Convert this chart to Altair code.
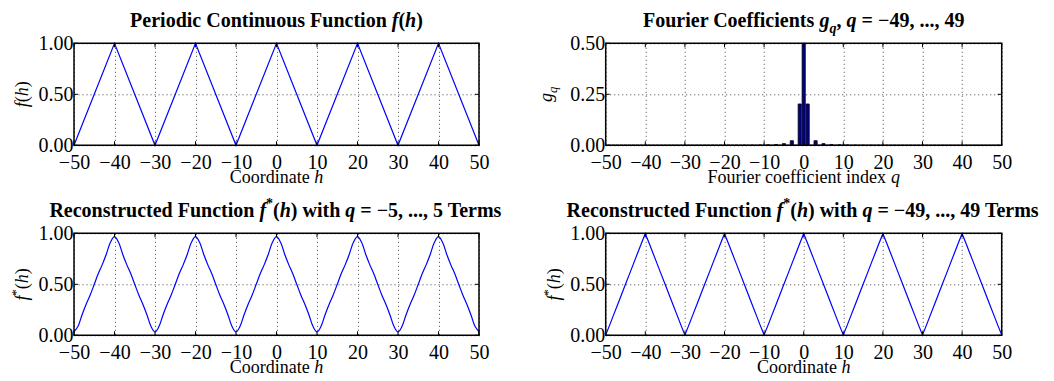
import altair as alt
import pandas as pd

# ---------------- data ----------------
H_TICKS = [-50, -40, -30, -20, -10, 0, 10, 20, 30, 40, 50]

# exact periodic function: vertices of the triangle wave
F_VERT_H = [-50, -40, -30, -20, -10, 0, 10, 20, 30, 40, 50]
F_VERT_V = [0.0, 1.0, 0.0, 1.0, 0.0, 1.0, 0.0, 1.0, 0.0, 1.0, 0.0]

# sample coordinates for reconstructed curves
H_SAMPLES = list(range(-50, 51))

# reconstruction with q = -5..5 (one value per unit of h)
F5_VALUES = [
    0.0335, 0.0880, 0.2022, 0.3046, 0.3950, 0.5000, 0.6050, 0.6954, 0.7978, 0.9120,
    0.9665, 0.9120, 0.7978, 0.6954, 0.6050, 0.5000, 0.3950, 0.3046, 0.2022, 0.0880,
    0.0335, 0.0880, 0.2022, 0.3046, 0.3950, 0.5000, 0.6050, 0.6954, 0.7978, 0.9120,
    0.9665, 0.9120, 0.7978, 0.6954, 0.6050, 0.5000, 0.3950, 0.3046, 0.2022, 0.0880,
    0.0335, 0.0880, 0.2022, 0.3046, 0.3950, 0.5000, 0.6050, 0.6954, 0.7978, 0.9120,
    0.9665, 0.9120, 0.7978, 0.6954, 0.6050, 0.5000, 0.3950, 0.3046, 0.2022, 0.0880,
    0.0335, 0.0880, 0.2022, 0.3046, 0.3950, 0.5000, 0.6050, 0.6954, 0.7978, 0.9120,
    0.9665, 0.9120, 0.7978, 0.6954, 0.6050, 0.5000, 0.3950, 0.3046, 0.2022, 0.0880,
    0.0335, 0.0880, 0.2022, 0.3046, 0.3950, 0.5000, 0.6050, 0.6954, 0.7978, 0.9120,
    0.9665, 0.9120, 0.7978, 0.6954, 0.6050, 0.5000, 0.3950, 0.3046, 0.2022, 0.0880,
    0.0335,
]

# reconstruction with q = -49..49
F49_VALUES = [
    0.004, 0.1, 0.2, 0.3, 0.4, 0.5, 0.6, 0.7, 0.8, 0.9,
    0.996, 0.9, 0.8, 0.7, 0.6, 0.5, 0.4, 0.3, 0.2, 0.1,
    0.004, 0.1, 0.2, 0.3, 0.4, 0.5, 0.6, 0.7, 0.8, 0.9,
    0.996, 0.9, 0.8, 0.7, 0.6, 0.5, 0.4, 0.3, 0.2, 0.1,
    0.004, 0.1, 0.2, 0.3, 0.4, 0.5, 0.6, 0.7, 0.8, 0.9,
    0.996, 0.9, 0.8, 0.7, 0.6, 0.5, 0.4, 0.3, 0.2, 0.1,
    0.004, 0.1, 0.2, 0.3, 0.4, 0.5, 0.6, 0.7, 0.8, 0.9,
    0.996, 0.9, 0.8, 0.7, 0.6, 0.5, 0.4, 0.3, 0.2, 0.1,
    0.004, 0.1, 0.2, 0.3, 0.4, 0.5, 0.6, 0.7, 0.8, 0.9,
    0.996, 0.9, 0.8, 0.7, 0.6, 0.5, 0.4, 0.3, 0.2, 0.1,
    0.004,
]

# Fourier coefficients g_q, q = -49..49
Q_INDEX = list(range(-49, 50))
G_VALUES = [
    0.0001, 0, 0.0001, 0, 0.0001, 0, 0.0001, 0, 0.0001, 0,
    0.0001, 0, 0.0001, 0, 0.0002, 0, 0.0002, 0, 0.0002, 0,
    0.0002, 0, 0.0003, 0, 0.0003, 0, 0.0004, 0, 0.0005, 0,
    0.0006, 0, 0.0007, 0, 0.0009, 0, 0.0012, 0, 0.0017, 0,
    0.0025, 0, 0.0041, 0, 0.0081, 0, 0.0225, 0, 0.2026,
    0.5,
    0.2026, 0, 0.0225, 0, 0.0081, 0, 0.0041, 0, 0.0025,
    0, 0.0017, 0, 0.0012, 0, 0.0009, 0, 0.0007, 0, 0.0006,
    0, 0.0005, 0, 0.0004, 0, 0.0003, 0, 0.0003, 0, 0.0002,
    0, 0.0002, 0, 0.0002, 0, 0.0002, 0, 0.0001, 0, 0.0001,
    0, 0.0001, 0, 0.0001, 0, 0.0001, 0, 0.0001, 0, 0.0001,
]

# ---------------- style helpers ----------------
FONT = "Liberation Serif"
LINE_BLUE = "#0000ff"
BAR_FILL = "#00008f"
DUMMY = pd.DataFrame({"d": [0]})

_REG = {" ": 250, "(": 333, ")": 333, "*": 500, ",": 250, ".": 250, "=": 564, "\u2212": 564,
        "C": 667, "F": 556, "a": 444, "b": 500, "c": 444, "d": 500, "e": 444, "f": 333,
        "g": 500, "h": 500, "i": 278, "n": 500, "o": 500, "q": 500, "r": 333, "s": 389,
        "t": 278, "u": 500, "x": 500}
_BOLD = {" ": 250, "(": 333, ")": 333, "*": 500, ",": 250, ".": 250, "=": 570, "\u2212": 570,
         "C": 722, "F": 611, "P": 611, "R": 722, "T": 667, "a": 500, "c": 444, "d": 556,
         "e": 444, "f": 333, "h": 556, "i": 278, "m": 833, "n": 556, "o": 500, "q": 556,
         "r": 444, "s": 389, "t": 333, "u": 556, "w": 722}
_IT = {"f": 278, "h": 500, "q": 500, "g": 500}
_BI = {"f": 333, "h": 556, "q": 500, "g": 500}
_TABLES = {"R": _REG, "B": _BOLD, "I": _IT, "BI": _BI}


def text_width(s, style):
    t = _TABLES[style]
    return sum(t.get(ch, 500) for ch in s) / 1000.0


def rich_text(segs, cx, cy, size, rotate=False):
    """segs: (text, style, kind) with kind '', 'sup' or 'sub'."""
    infos = []
    for t, st, k in segs:
        fs = size * 0.7 if k else size
        infos.append((t, st, k, fs, text_width(t, st) * fs))
    total = sum(i[4] for i in infos)
    pos = -total / 2.0
    out = []
    for t, st, k, fs, w in infos:
        lead = len(t) - len(t.lstrip(" "))
        p = pos + lead * 0.25 * fs
        txt = t.strip(" ")
        rise = 0.45 * size if k == "sup" else (-0.32 * size if k == "sub" else 0.0)
        if rotate:
            x, y, ang = cx - rise, cy - p, 270
        else:
            x, y, ang = cx + p, cy - rise, 0
        mk = dict(text=txt, font=FONT, fontSize=fs, align="left", baseline="alphabetic",
                  color="black", angle=ang)
        if st in ("B", "BI"):
            mk["fontWeight"] = "bold"
        if st in ("I", "BI"):
            mk["fontStyle"] = "italic"
        if txt:
            out.append(alt.Chart(DUMMY).mark_text(**mk).encode(x=alt.value(x), y=alt.value(y)))
        pos += w
    return out


def panel(w, h, make_layers, ydom, yvals, title, xtitle, ytitle, ybase):
    xs = alt.Scale(domain=[-50, 50], nice=False, zero=False)
    ys = alt.Scale(domain=ydom, nice=False, zero=False)
    xax = alt.Axis(values=H_TICKS, format="d", title=None, grid=True, ticks=False,
                   domain=False, labelPadding=7, labelOverlap=False, labelFlush=False)
    yax = alt.Axis(values=yvals, format=".2f", title=None, grid=True, ticks=False,
                   domain=False, labelPadding=1, labelOverlap=False, labelFlush=False)
    X = alt.X("x:Q", scale=xs, axis=xax)
    Y = alt.Y("y:Q", scale=ys, axis=yax)

    layers = make_layers(X, Y)

    xt = pd.DataFrame({"x": H_TICKS})
    yt = pd.DataFrame({"y": yvals})
    tick_style = dict(color="black", strokeWidth=1)
    layers += [
        alt.Chart(xt).mark_rule(**tick_style).encode(x=X, y=alt.value(h), y2=alt.value(h - 4)),
        alt.Chart(xt).mark_rule(**tick_style).encode(x=X, y=alt.value(0), y2=alt.value(4)),
        alt.Chart(yt).mark_rule(**tick_style).encode(y=Y, x=alt.value(0), x2=alt.value(4)),
        alt.Chart(yt).mark_rule(**tick_style).encode(y=Y, x=alt.value(w), x2=alt.value(w - 4)),
        alt.Chart(DUMMY).mark_rect(fillOpacity=0, stroke="black", strokeWidth=1.5).encode(
            x=alt.value(0), x2=alt.value(w), y=alt.value(0), y2=alt.value(h)),
    ]
    layers += rich_text(title, w / 2.0, -16.5, 20)
    layers += rich_text(xtitle, w / 2.0, h + 38, 18)
    layers += rich_text(ytitle, ybase, h / 2.0, 18, rotate=True)
    return alt.layer(*layers).properties(width=w, height=h)


# ---------------- panels ----------------
def layers_f(X, Y):
    df = pd.DataFrame({"x": F_VERT_H, "y": F_VERT_V})
    return [alt.Chart(df).mark_line(color=LINE_BLUE, strokeWidth=1.2).encode(x=X, y=Y)]


def layers_g(X, Y):
    df = pd.DataFrame({"q": Q_INDEX, "y": G_VALUES})
    return [alt.Chart(df).transform_calculate(x="datum.q - 0.4", x2="datum.q + 0.4")
            .mark_bar(color=BAR_FILL, stroke="black", strokeWidth=0.8)
            .encode(x=X, x2="x2:Q", y=Y, y2=alt.datum(0))]


def layers_f5(X, Y):
    df = pd.DataFrame({"x": H_SAMPLES, "y": F5_VALUES})
    return [alt.Chart(df).mark_line(color=LINE_BLUE, strokeWidth=1.2, interpolate="catmull-rom")
            .encode(x=X, y=Y)]


def layers_f49(X, Y):
    df = pd.DataFrame({"x": H_SAMPLES, "y": F49_VALUES})
    return [alt.Chart(df).mark_line(color=LINE_BLUE, strokeWidth=1.2).encode(x=X, y=Y)]


MINUS = "\u2212"
t_f = [("Periodic Continuous Function ", "B", ""), ("f", "BI", ""), ("(", "B", ""),
       ("h", "BI", ""), (")", "B", "")]
t_g = [("Fourier Coefficients ", "B", ""), ("g", "BI", ""), ("q", "BI", "sub"),
       (", ", "B", ""), ("q", "BI", ""), (" = " + MINUS + "49, ..., 49", "B", "")]
t_5 = [("Reconstructed Function ", "B", ""), ("f", "BI", ""), ("*", "B", "sup"),
       ("(", "B", ""), ("h", "BI", ""), (") with ", "B", ""), ("q", "BI", ""),
       (" = " + MINUS + "5, ..., 5 Terms", "B", "")]
t_49 = [("Reconstructed Function ", "B", ""), ("f", "BI", ""), ("*", "B", "sup"),
        ("(", "B", ""), ("h", "BI", ""), (") with ", "B", ""), ("q", "BI", ""),
        (" = " + MINUS + "49, ..., 49 Terms", "B", "")]

x_h = [("Coordinate ", "R", ""), ("h", "I", "")]
x_q = [("Fourier coefficient index ", "R", ""), ("q", "I", "")]
y_f = [("f", "I", ""), ("(", "R", ""), ("h", "I", ""), (")", "R", "")]
y_fs = [("f", "I", ""), ("*", "R", "sup"), ("(", "R", ""), ("h", "I", ""), (")", "R", "")]
y_g = [("g", "I", ""), ("q", "I", "sub")]

WL, WR, HP = 405, 396, 102

p1 = panel(WL, HP, layers_f, [0, 1], [0, 0.5, 1], t_f, x_h, y_f, -46)
p2 = panel(WR, HP, layers_g, [0, 0.5], [0, 0.25, 0.5], t_g, x_q, y_g, -54)
p3 = panel(WL, HP, layers_f5, [0, 1], [0, 0.5, 1], t_5, x_h, y_fs, -46)
p4 = panel(WR, HP, layers_f49, [0, 1], [0, 0.5, 1], t_49, x_h, y_fs, -46)

chart = (
    alt.concat(p1, p2, p3, p4, columns=2, spacing={"row": 88, "column": 126.7}, bounds="flush")
    .properties(
        autosize=alt.AutoSizeParams(type="none"),
        padding={"left": 74, "top": 43.3, "right": 980, "bottom": 337.7},
        background="white",
    )
    .configure_view(stroke="transparent")
    .configure_axis(labelFont=FONT, labelFontSize=20, labelColor="black",
                    gridColor="#444444", gridDash=[1, 3], gridWidth=1, gridOpacity=1)
)

chart.save("out.html", embed_options={"renderer": "svg", "actions": False})
